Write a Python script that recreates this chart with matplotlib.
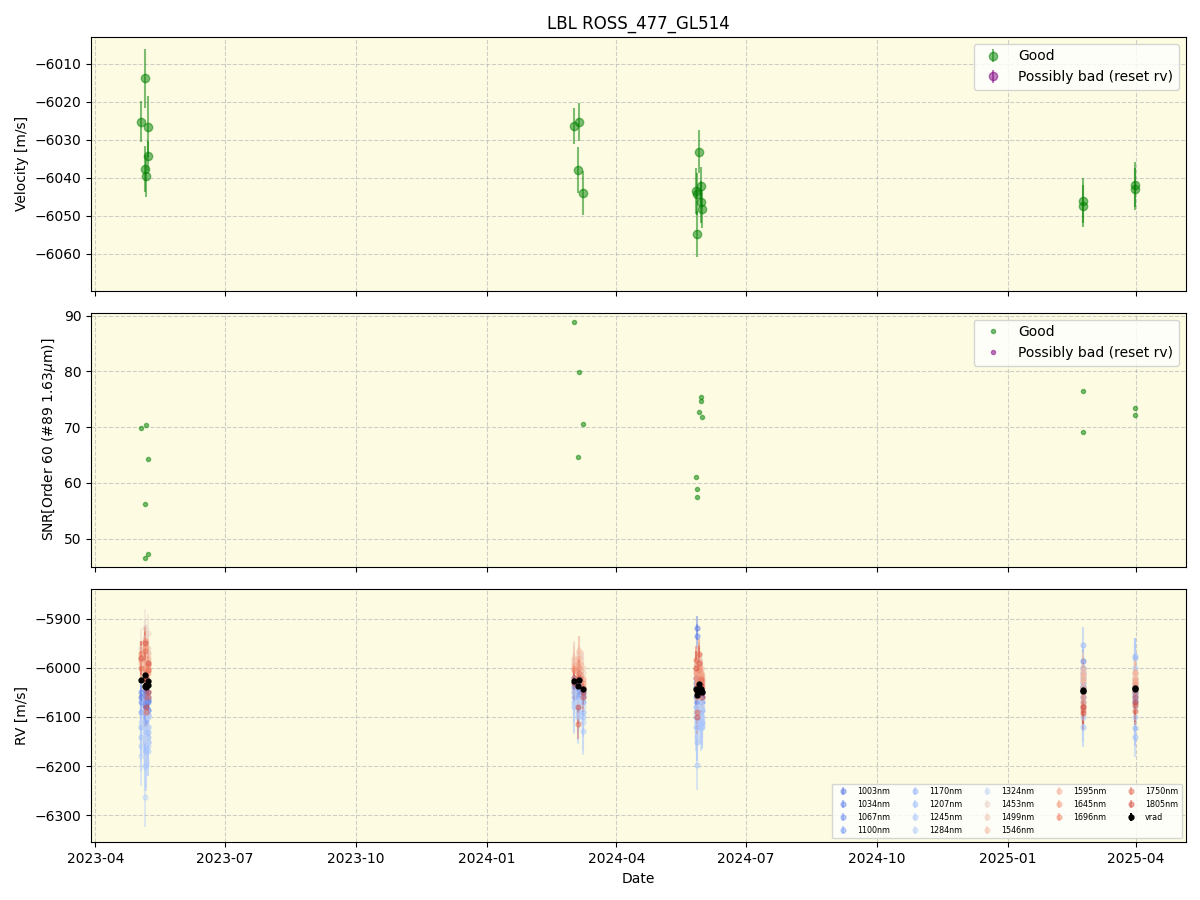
import numpy as np
import pandas as pd
import matplotlib
matplotlib.use('Agg')
import matplotlib.pyplot as plt
from matplotlib import cm

# epochs
dates = pd.to_datetime([
    '2023-05-03 07:00', '2023-05-05 14:00', '2023-05-05 15:00', '2023-05-06 06:00',
    '2023-05-07 16:00', '2023-05-07 18:00',
    '2024-03-02 14:00', '2024-03-04 17:00', '2024-03-05 10:00', '2024-03-08 17:00',
    '2024-05-27 07:00', '2024-05-27 08:00', '2024-05-27 09:00', '2024-05-29 09:00',
    '2024-05-30 19:00', '2024-05-30 20:00', '2024-05-30 21:00',
    '2025-02-22 19:00', '2025-02-23 02:00',
    '2025-03-31 12:00', '2025-03-31 14:00'])

vrad = [-6025.2, -6013.8, -6037.6, -6039.5, -6026.5, -6034.2,
        -6026.3, -6037.9, -6025.2, -6044.1,
        -6043.4, -6044.2, -6054.8, -6033.1, -6042.1, -6046.3, -6048.2,
        -6046.0, -6047.4,
        -6041.8, -6043.0]
svrad = [5.3, 7.8, 6.0, 5.5, 8.0, 4.0,
         4.7, 6.0, 5.0, 5.8,
         6.0, 5.5, 6.0, 5.7, 5.0, 5.5, 5.0,
         6.0, 5.5,
         6.0, 5.5]
snr = [69.9, 56.2, 46.5, 70.3, 64.3, 47.2,
       88.8, 64.6, 79.9, 70.5,
       61.1, 58.9, 57.5, 72.7, 75.4, 74.7, 71.8,
       76.5, 69.2,
       73.5, 72.1]

# per-band RV [m/s], one value per epoch
bands = [1003, 1034, 1067, 1100, 1170, 1207, 1245, 1284, 1324,
         1453, 1499, 1546, 1595, 1645, 1696, 1750, 1805]
band_rv = {
    1003: [-6060, -6045, -6075, -6080, -6050, -6070, -6020, -6040, -6030, -6050,
           -6020, -5919, -6060, -6010, -6030, -6040, -6050, -6000, -6010, -6060, -6050],
    1034: [-6050, -6040, -6090, -6095, -6060, -6065, -6030, -6035, -6020, -6060,
           -6030, -5936, -6070, -6020, -6045, -6055, -6060, -5987, -6020, -6070, -6040],
    1067: [-6070, -6055, -6080, -6100, -6065, -6085, -6040, -6050, -6035, -6055,
           -6040, -6050, -6080, -6035, -6055, -6060, -6070, -6030, -6040, -6030, -6055],
    1100: [-6090, -6070, -6110, -6105, -6085, -6095, -6050, -6060, -6045, -6070,
           -6060, -6070, -6090, -6050, -6070, -6080, -6085, -6040, -6050, -6050, -6065],
    1170: [-6120, -6100, -6150, -6160, -6130, -6140, -6060, -6080, -6050, -6090,
           -6080, -6100, -6120, -6060, -6090, -6100, -6110, -5953, -6060, -5975, -6123],
    1207: [-6140, -6110, -6170, -6165, -6120, -6150, -6070, -6090, -6060, -6100,
           -6100, -6110, -6150, -6070, -6095, -6110, -6120, -6121, -6070, -5980, -6141],
    1245: [-6160, -6130, -6200, -6195, -6150, -6170, -6080, -6100, -6070, -6128,
           -6120, -6198, -6140, -6080, -6100, -6120, -6115, -6080, -6100, -6000, -6100],
    1284: [-6180, -6145, -6263, -6190, -6160, -6100, -6075, -6095, -6065, -6110,
           -6090, -6130, -6110, -6060, -6085, -6095, -6105, -6050, -6060, -6020, -6080],
    1324: [-6110, -6090, -6140, -6150, -6100, -6120, -6050, -6070, -6040, -6080,
           -6060, -6080, -6095, -6040, -6065, -6075, -6080, -6030, -6040, -6010, -6030],
    1453: [-5960, -5920, -5940, -5950, -5930, -5970, -5990, -6000, -5975, -6010,
           -6010, -6000, -6030, -5990, -6010, -6020, -6025, -6010, -6020, -6020, -6030],
    1499: [-5980, -5950, -5990, -6000, -5960, -5985, -5980, -6010, -5970, -6000,
           -6000, -5990, -6020, -5985, -6005, -6015, -6020, -6000, -6015, -6015, -6025],
    1546: [-5990, -5960, -5995, -6010, -5970, -5990, -5985, -5995, -5965, -6020,
           -5995, -6005, -6035, -5990, -6000, -6010, -6015, -6005, -6025, -6010, -6020],
    1595: [-5975, -5955, -6005, -6010, -5980, -6000, -5995, -6015, -5980, -6025,
           -6005, -6010, -6040, -5995, -6010, -6020, -6025, -6015, -6026, -6008, -6030],
    1645: [-5985, -5960, -6000, -6020, -5990, -6010, -6000, -6020, -5990, -6030,
           -6010, -6020, -6050, -6000, -6015, -6025, -6030, -6040, -6050, -6025, -6035],
    1696: [-5970, -5945, -6010, -6015, -5995, -6005, -6005, -6030, -6000, -6040,
           -6020, -6030, -6060, -6005, -6020, -6035, -6040, -6060, -6070, -6040, -6050],
    1750: [-6000, -5965, -6040, -6090, -6005, -6060, -6020, -6114, -6010, -6060,
           -5985, -6040, -6090, -5972, -6025, -6045, -6050, -6077, -6085, -6087, -6060],
    1805: [-5980, -5950, -6020, -6080, -5990, -6050, -6030, -6080, -6020, -6050,
           -6000, -6050, -6100, -5990, -6035, -6050, -6060, -6092, -6080, -6070, -6075],
}
band_err = [25, 25, 22, 25, 35, 40, 50, 60, 45, 40, 35, 30, 25, 22, 25, 30, 35]

bg = '#fdfce3'
fig, axes = plt.subplots(3, 1, figsize=(12, 9), sharex=True)
plt.subplots_adjust(left=0.076, right=0.988, top=0.959, bottom=0.064, hspace=0.087)

# top: velocity
ax = axes[0]
ax.errorbar(dates, vrad, yerr=svrad, fmt='o', color='green', alpha=0.5, label='Good')
ax.errorbar([], [], yerr=[], fmt='o', color='purple', alpha=0.5, label='Possibly bad (reset rv)')
ax.set_ylabel('Velocity [m/s]')
ax.set_title('LBL ROSS_477_GL514')
ax.set_ylim(-6069.7, -6002.9)
ax.legend(loc='upper right')

# middle: SNR
ax = axes[1]
ax.plot(dates, snr, 'o', color='green', alpha=0.5, ms=3, label='Good')
ax.plot([], [], 'o', color='purple', alpha=0.5, ms=3, label='Possibly bad (reset rv)')
ax.set_ylabel('SNR[Order 60 (#89 1.63$\\mu$m)]')
ax.set_ylim(45, 90.5)
ax.legend(loc='upper right')

# bottom: per-band RV
ax = axes[2]
for i, b in enumerate(bands):
    c = cm.coolwarm(0.1 + 0.8 * (b - bands[0]) / (bands[-1] - bands[0]))
    ax.errorbar(dates, band_rv[b], yerr=band_err[i], fmt='o', color=c, alpha=0.45,
                ms=3.5, label=f'{b}nm')
ax.errorbar(dates, vrad, yerr=svrad, fmt='o', color='black', ms=3.5, label='vrad')
ax.set_ylabel('RV [m/s]')
ax.set_xlabel('Date')
ax.set_ylim(-6355, -5839)
ax.legend(loc='lower right', ncol=5, fontsize=5.8)

for ax in axes:
    ax.set_facecolor(bg)
    ax.grid(True, linestyle='--', alpha=0.6)
ax.set_xlim(pd.Timestamp('2023-03-29'), pd.Timestamp('2025-05-06'))

plt.savefig('out.png', dpi=100)
